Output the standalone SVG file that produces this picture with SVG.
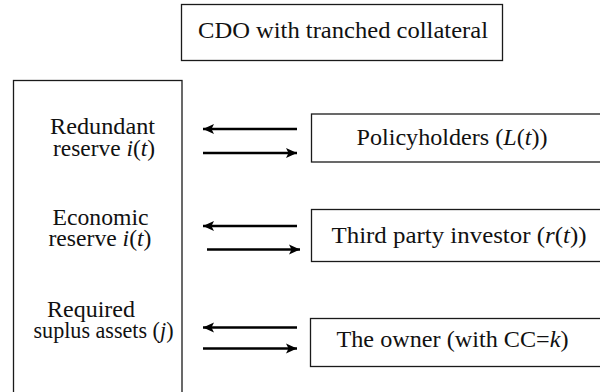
<svg xmlns="http://www.w3.org/2000/svg" width="600" height="392" viewBox="0 0 600 392">
<style>
.box{fill:#fff;stroke:#1a1a1a;stroke-width:1.3}
.t{font-family:"Liberation Serif","Times New Roman",serif;font-size:23px;fill:#111}
.i{font-style:italic}
.arr{stroke:#000;stroke-width:2.4;fill:none;marker-end:url(#ah)}
</style>
<defs>
<marker id="ah" markerUnits="userSpaceOnUse" markerWidth="12" markerHeight="12" viewBox="0 0 12 12" refX="11" refY="6" orient="auto">
<path d="M0,1 L11,6 L0,11 L2.5,6 Z" fill="#000"/>
</marker>
</defs>
<rect width="600" height="392" fill="#fff"/>
<g id="title">
<rect class="box" x="181.5" y="4.5" width="321" height="56"/>
<text class="t" x="198" y="38" textLength="290" lengthAdjust="spacingAndGlyphs">CDO with tranched collateral</text>
</g>
<g id="cdo">
<rect class="box" x="13.5" y="80.5" width="168.5" height="330"/>
<text class="t"><tspan x="50" y="133.5" textLength="105" lengthAdjust="spacingAndGlyphs">Redundant</tspan><tspan x="53" y="155.5" textLength="102" lengthAdjust="spacingAndGlyphs">reserve <tspan class="i">i</tspan>(<tspan class="i">t</tspan>)</tspan></text>
<text class="t"><tspan x="52.5" y="225" textLength="96" lengthAdjust="spacingAndGlyphs">Economic</tspan><tspan x="48.5" y="245.5" textLength="103" lengthAdjust="spacingAndGlyphs">reserve <tspan class="i">i</tspan>(<tspan class="i">t</tspan>)</tspan></text>
<text class="t"><tspan x="47" y="316.5" textLength="88" lengthAdjust="spacingAndGlyphs">Required</tspan><tspan x="33.5" y="338" textLength="140" lengthAdjust="spacingAndGlyphs">suplus assets (<tspan class="i">j</tspan>)</tspan></text>
</g>
<g id="policyholders">
<rect class="box" x="311.5" y="114" width="300" height="48"/>
<text class="t" x="356.5" y="145" textLength="191" lengthAdjust="spacingAndGlyphs">Policyholders (<tspan class="i">L</tspan>(<tspan class="i">t</tspan>))</text>
</g>
<g id="investor">
<rect class="box" x="311.5" y="209.5" width="300" height="52"/>
<text class="t" x="331.5" y="243" textLength="255" lengthAdjust="spacingAndGlyphs">Third party investor (<tspan class="i">r</tspan>(<tspan class="i">t</tspan>))</text>
</g>
<g id="owner">
<rect class="box" x="310.5" y="318.5" width="300" height="48"/>
<text class="t" x="336.5" y="347" textLength="232" lengthAdjust="spacingAndGlyphs">The owner (with CC=<tspan class="i">k</tspan>)</text>
</g>
<g id="connectors">
<line class="arr" x1="297" y1="129" x2="203" y2="129"/>
<line class="arr" x1="203" y1="153" x2="297" y2="153"/>
<line class="arr" x1="297" y1="226" x2="203" y2="226"/>
<line class="arr" x1="207" y1="249.5" x2="300" y2="249.5"/>
<line class="arr" x1="297" y1="327.5" x2="203" y2="327.5"/>
<line class="arr" x1="203" y1="348.5" x2="297" y2="348.5"/>
</g>
</svg>
